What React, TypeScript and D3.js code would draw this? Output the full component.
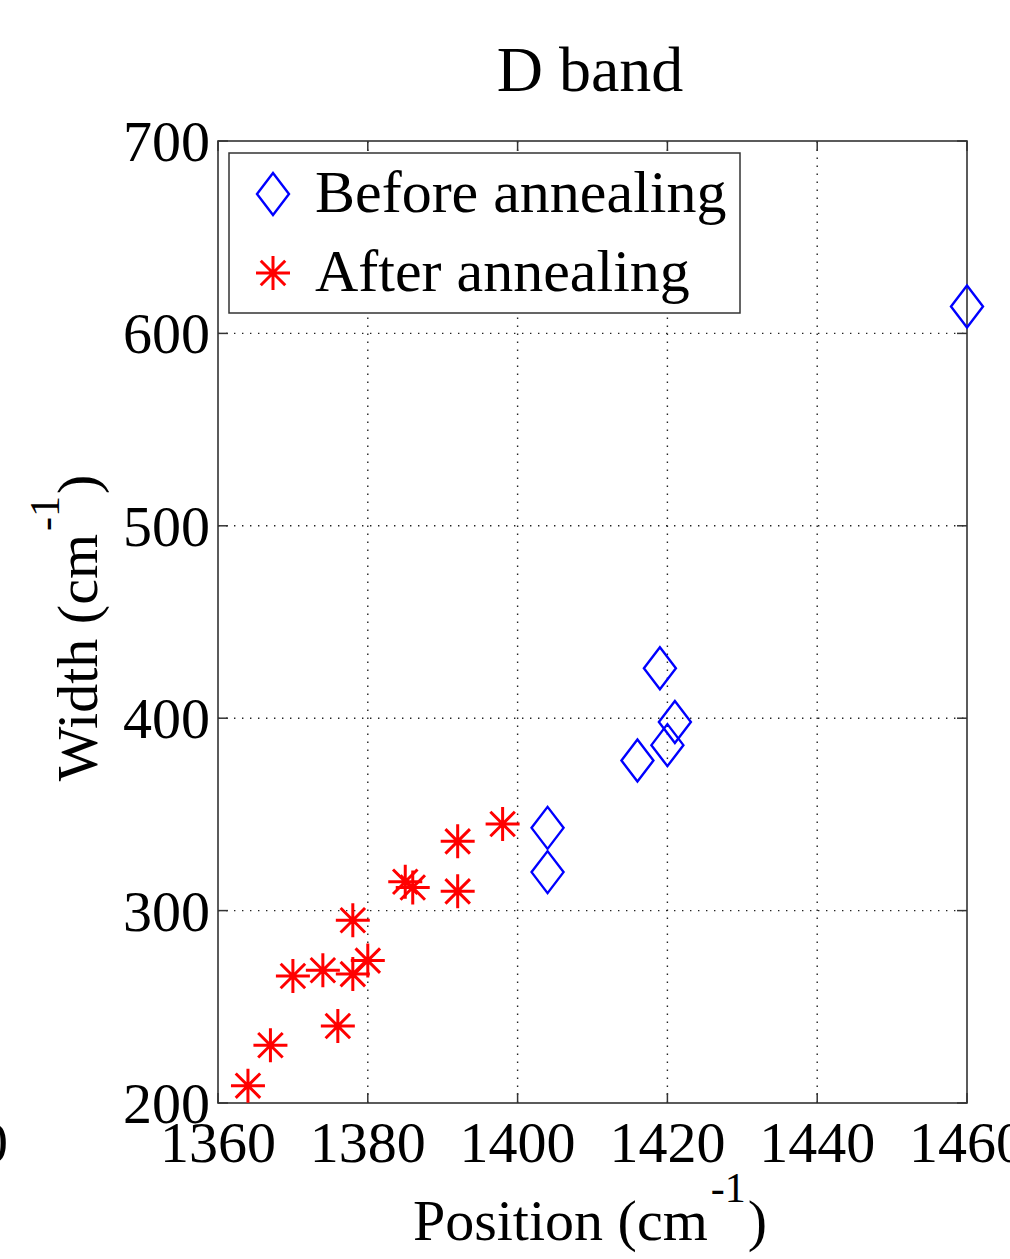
import React from "react";
import * as d3 from "d3";

// D band: peak position vs width
const beforeX = [1404, 1404, 1416, 1419, 1420, 1421, 1460];
const beforeY = [343, 320, 378, 426, 386, 398, 614];
const afterX = [1364, 1367, 1370, 1374, 1378, 1376, 1378, 1380, 1385, 1386, 1392, 1392, 1398];
const afterY = [209, 230, 266, 269, 267, 240, 295, 274, 315, 312, 310, 336, 345];
const xTicks = [1360, 1380, 1400, 1420, 1440, 1460];
const yTicks = [200, 300, 400, 500, 600, 700];
const legendLabels = ["Before annealing", "After annealing"];

const W = 1010;
const H = 1259;
const margin = { left: 218, right: 43, top: 141, bottom: 156 };
const FONT = "'Liberation Serif', 'Times New Roman', serif";

const Diamond = ({ x, y }: { x: number; y: number }) => (
  <path
    d={`M${x},${y - 21}L${x + 16},${y}L${x},${y + 21}L${x - 16},${y}Z`}
    fill="none"
    stroke="#0000ff"
    strokeWidth={2.4}
  />
);

const Star = ({ x, y }: { x: number; y: number }) => {
  const r = 17;
  const d = r * 0.72;
  return (
    <path
      d={`M${x - r},${y}H${x + r}M${x},${y - r}V${y + r}M${x - d},${y - d}L${x + d},${y + d}M${x - d},${y + d}L${x + d},${y - d}`}
      stroke="#ff0000"
      strokeWidth={3}
      fill="none"
    />
  );
};

export default function App() {
  const x = d3.scaleLinear().domain([1360, 1460]).range([margin.left, W - margin.right]);
  const y = d3.scaleLinear().domain([200, 700]).range([H - margin.bottom, margin.top]);
  const [x0, x1] = x.range();
  const [y0, y1] = y.range();
  const tick = 10;

  return (
    <svg
      width={W}
      height={H}
      style={{ position: "absolute", left: 0, top: 0, background: "#fff" }}
      fontFamily={FONT}
    >
      <rect x={0} y={0} width={W} height={H} fill="#fff" />

      {/* grid */}
      {xTicks.slice(1, -1).map((t) => (
        <line key={"gx" + t} x1={x(t)} x2={x(t)} y1={y0} y2={y1} stroke="#222" strokeWidth={1.4} strokeDasharray="1.4 6.6" />
      ))}
      {yTicks.slice(1, -1).map((t) => (
        <line key={"gy" + t} x1={x0} x2={x1} y1={y(t)} y2={y(t)} stroke="#222" strokeWidth={1.4} strokeDasharray="1.4 6.6" />
      ))}

      {/* ticks */}
      {xTicks.map((t) => (
        <g key={"tx" + t}>
          <line x1={x(t)} x2={x(t)} y1={y0} y2={y0 - tick} stroke="#333" strokeWidth={1.5} />
          <line x1={x(t)} x2={x(t)} y1={y1} y2={y1 + tick} stroke="#333" strokeWidth={1.5} />
        </g>
      ))}
      {yTicks.map((t) => (
        <g key={"ty" + t}>
          <line x1={x0} x2={x0 + tick} y1={y(t)} y2={y(t)} stroke="#333" strokeWidth={1.5} />
          <line x1={x1} x2={x1 - tick} y1={y(t)} y2={y(t)} stroke="#333" strokeWidth={1.5} />
        </g>
      ))}

      <rect x={x0} y={y1} width={x1 - x0} height={y0 - y1} fill="none" stroke="#333" strokeWidth={1.6} />

      {/* tick labels */}
      {xTicks.map((t) => (
        <text key={"lx" + t} x={x(t)} y={y0 + 59} fontSize={58} textAnchor="middle" fill="#000">
          {t}
        </text>
      ))}
      {yTicks.map((t) => (
        <text key={"ly" + t} x={x0 - 8} y={y(t) + 20} fontSize={58} textAnchor="end" fill="#000">
          {t}
        </text>
      ))}
      {/* edge of neighbouring panel's label */}
      <text x={-50} y={y0 + 59} fontSize={58} textAnchor="middle" fill="#000">1460</text>

      {/* data */}
      {afterX.map((v, i) => (
        <Star key={"a" + i} x={x(v)} y={y(afterY[i])} />
      ))}
      {beforeX.map((v, i) => (
        <Diamond key={"b" + i} x={x(v)} y={y(beforeY[i])} />
      ))}

      {/* legend */}
      <rect x={229} y={153} width={511} height={160} fill="#fff" stroke="#333" strokeWidth={1.5} />
      <Diamond x={273} y={194} />
      <Star x={273} y={273} />
      <text x={315} y={212} fontSize={60} fill="#000">{legendLabels[0]}</text>
      <text x={315} y={291} fontSize={60} fill="#000">{legendLabels[1]}</text>

      {/* title */}
      <text x={590} y={91} fontSize={64} textAnchor="middle" fill="#000">D band</text>

      {/* axis labels */}
      <text x={590} y={1240} fontSize={58} textAnchor="middle" fill="#000">
        Position (cm<tspan fontSize={42} dx={3} dy={-38}>-1</tspan><tspan dx={2} dy={38}>)</tspan>
      </text>
      <text
        transform={`translate(97,628) rotate(-90)`}
        fontSize={58}
        textAnchor="middle"
        fill="#000"
      >
        Width (cm<tspan fontSize={42} dx={3} dy={-38}>-1</tspan><tspan dx={2} dy={38}>)</tspan>
      </text>
    </svg>
  );
}
